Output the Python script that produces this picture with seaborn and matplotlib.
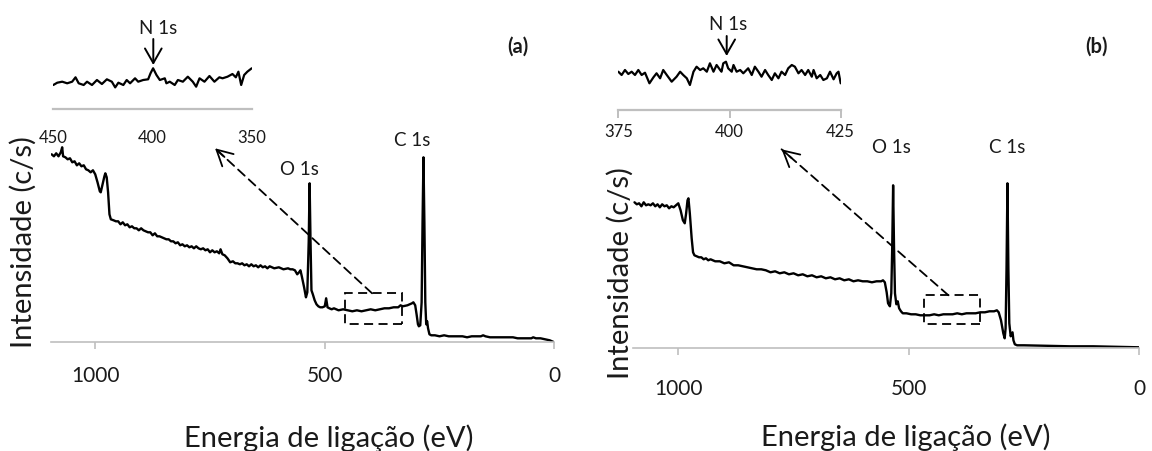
import matplotlib
matplotlib.use("Agg")
import matplotlib.pyplot as plt
import seaborn as sns
import pandas as pd
from matplotlib.patches import Rectangle, FancyArrowPatch

# ---------------- data (intensity in arbitrary units) ----------------
energy_a = [1095, 1090, 1085, 1080, 1075, 1072, 1070, 1065, 1060, 1055, 1050, 1045, 1040, 1035,
            1030, 1025, 1020, 1015, 1010, 1005, 1000, 995, 990, 988, 985, 980, 978, 975, 972,
            969, 966, 960, 955, 950, 945, 940, 935, 930, 925, 920, 915, 910, 905, 900, 895,
            890, 885, 880, 875, 870, 865, 860, 855, 850, 845, 840, 835, 830, 825, 820, 815,
            810, 805, 800, 795, 790, 785, 780, 775, 770, 765, 760, 755, 750, 745, 740, 735,
            730, 727, 723, 718, 712, 706, 700, 695, 690, 685, 680, 675, 670, 665, 660, 655,
            650, 645, 640, 635, 630, 625, 620, 610, 600, 590, 580, 575, 570, 565, 560, 556,
            553, 550, 545, 541, 538, 535, 533, 531, 529, 526, 522, 518, 514, 510, 505, 500,
            497, 494, 490, 485, 480, 470, 460, 450, 440, 430, 420, 410, 400, 390, 380, 370,
            360, 350, 340, 335, 330, 320, 315, 310, 307, 303, 300, 297, 295, 292, 289, 287,
            285, 283, 281, 279, 277, 275, 272, 268, 260, 250, 240, 230, 220, 210, 200, 190,
            180, 170, 160, 155, 150, 140, 130, 120, 110, 100, 90, 80, 70, 60, 50, 46, 40,
            30, 20, 10, 5, 0]
intensity_a = [188, 186, 189, 186, 190, 195, 186, 185, 183, 184, 180, 181, 177, 179,
               176, 177, 173, 172, 170, 172, 168, 160, 151, 150, 156, 166, 169, 165, 150,
               128, 123, 122, 121, 121, 118, 120, 117, 118, 115, 116, 114, 114, 112, 114, 112,
               111, 110, 110, 107, 109, 106, 106, 105, 104, 103, 103, 101, 101, 99, 100, 97,
               98, 96, 97, 95, 96, 94, 96, 94, 93, 94, 92, 93, 90, 92, 90, 91,
               89, 93, 88, 87, 84, 80, 81, 79, 79, 78, 79, 77, 78, 76, 78, 76,
               77, 75, 77, 75, 76, 74, 76, 74, 75, 73, 74, 73, 73, 72, 68, 70,
               72, 66, 55, 45, 50, 100, 159, 100, 52, 48, 42, 38, 36, 35, 35, 36,
               44, 35, 34, 33, 34, 32, 33, 32, 31, 32, 31, 32, 33, 32, 33, 34,
               34, 35, 35, 37, 36, 37, 38, 39, 40, 37, 28, 18, 16, 17, 40, 120,
               185, 120, 40, 18, 21, 14, 8, 7, 7, 6, 7, 6, 6, 6, 6, 5,
               6, 6, 6, 7, 6, 5, 5, 5, 5, 5, 5, 4, 4, 4, 4, 5, 4,
               4, 3, 2, 1, 0]

energy_b = [1095, 1090, 1085, 1080, 1075, 1070, 1065, 1060, 1055, 1050, 1045, 1040, 1035,
            1030, 1025, 1020, 1015, 1010, 1005, 1000, 995, 990, 986, 983, 980, 978, 975, 971,
            968, 965, 960, 955, 950, 945, 940, 935, 930, 920, 910, 900, 890, 880, 870, 860,
            850, 840, 830, 820, 810, 800, 790, 780, 770, 760, 750, 740, 730, 720, 710, 700,
            690, 680, 670, 660, 650, 640, 630, 620, 610, 600, 590, 580, 570, 560, 556, 552,
            548, 545, 541, 538, 536, 534, 532, 530, 527, 524, 521, 517, 513, 505, 495, 485,
            475, 465, 455, 445, 435, 425, 415, 405, 395, 385, 375, 365, 355, 345, 335, 325,
            315, 309, 305, 300, 295, 292, 290, 288, 286, 284, 282, 279, 277, 275, 273, 270,
            265, 250, 200, 150, 100, 50, 0]
intensity_b = [146, 144, 145, 142, 146, 143, 144, 143, 145, 142, 144, 141, 144,
               142, 143, 140, 142, 141, 143, 145, 138, 128, 125, 135, 148, 150, 135, 110,
               96, 93, 92, 91, 91, 89, 90, 88, 89, 87, 87, 85, 86, 83, 83, 82,
               81, 80, 79, 79, 78, 76, 77, 75, 76, 74, 75, 73, 74, 72, 73, 71,
               72, 70, 71, 69, 70, 68, 69, 67, 68, 67, 67, 66, 67, 67, 68, 66,
               56, 45, 42, 55, 100, 163, 100, 55, 44, 47, 40, 37, 35, 35, 34, 34,
               33, 33, 33, 34, 33, 34, 34, 34, 35, 34, 35, 35, 35, 36, 36, 37,
               37, 38, 36, 28, 15, 10, 20, 80, 165, 80, 25, 12, 14, 16, 8, 4,
               3, 3, 2.5, 2, 2, 1.5, 1]

inset_energy_a = [450, 448, 445.5, 443, 440.5, 438.8, 437.2, 434.7, 433, 430.5, 428, 425.5, 423,
                  420.5, 418.8, 417.2, 414.7, 413, 411.3, 408.8, 407.2, 404.7, 402.2, 401,
                  399.7, 398, 396.3, 393.8, 393, 391.3, 388.8, 387.2, 384.7, 382.2, 379.7,
                  378, 376.3, 373.8, 371.3, 368.8, 366.3, 364.7, 362.2, 359.7, 358, 356.7,
                  355.3, 353.8, 352.2, 350]
inset_intensity_a = [24.3, 26.6, 27.6, 26, 27.6, 32, 26, 24.3, 27.6, 24.3, 29.3, 25.3, 30,
                     27.6, 21.9, 26.6, 24.3, 29.3, 26, 31, 27.6, 29.3, 30, 36,
                     41, 34.3, 29.3, 31, 26, 27.6, 24.3, 29.3, 27.6, 32.6, 27.6,
                     22.6, 31, 27.6, 33.3, 27.6, 32, 31, 32.6, 35.3, 32, 37.6,
                     24.3, 34.3, 37.6, 41]

inset_energy_b = [375.0, 375.75, 376.5, 377.25, 378.0, 378.75, 379.5, 380.25, 381.0, 382.0,
                  382.9, 383.6, 384.4, 385.1, 385.9, 387.0, 388.1, 388.9, 389.6, 390.4,
                  391.1, 391.9, 392.6, 393.4, 394.1, 394.9, 395.6, 396.4, 397.1, 397.9,
                  398.2, 398.6, 399.2, 399.7, 400.5, 400.9, 401.6, 402.4, 403.1, 404.2,
                  405.0, 405.7, 406.5, 407.2, 408.0, 408.7, 409.5, 410.2, 411.0, 411.7,
                  412.5, 413.2, 414.0, 414.7, 415.5, 416.2, 417.0, 417.7, 418.5, 418.9,
                  419.6, 420.4, 421.1, 421.9, 422.6, 423.4, 424.1, 424.5, 425.0]
inset_intensity_b = [38.3, 35, 40, 36, 38.3, 35, 40, 35, 37.3, 26.7,
                     32.7, 36.7, 31.7, 40, 35, 28.3, 33.3, 38.3, 35, 31.7,
                     25, 38.3, 43.3, 40, 41.7, 38.3, 46.7, 38.3, 45, 40,
                     38.3, 46.7, 48.3, 41.7, 38.3, 45, 38.3, 40, 36.7, 41.7,
                     35, 43.3, 38.3, 33.3, 40, 35, 30, 36.7, 31.7, 38.3,
                     35, 41.7, 45, 43.3, 36.7, 40, 35, 40, 33.3, 40,
                     31.7, 35, 30, 31.7, 38.3, 30.7, 36.7, 38.3, 26.7]

main_ticks = [1000, 500, 0]
inset_ticks_a = [450, 400, 350]
inset_ticks_b = [375, 400, 425]
panel_labels = ["(a)", "(b)"]
peak_labels = ["O 1s", "C 1s"]
inset_peak = "N 1s"
x_title = "Energia de ligação (eV)"
y_title = "Intensidade (c/s)"

# ---------------- style ----------------
sns.set_theme(style="white")
plt.rcParams["font.family"] = ["Lato", "DejaVu Sans"]
TXT = "#1a1a1a"
GRID = "#bfbfbf"
LABEL_FS = 21

W, H = 1152, 451
fig = plt.figure(figsize=(W / 100, H / 100), dpi=100)


def fx(x):
    return x / W


def fy(y):
    return 1 - y / H


def rect(x0, y_line, x1, h):
    return [fx(x0), fy(y_line), (x1 - x0) / W, h / H]


def main_panel(pos, energy, inten, xmax, tick_pad):
    ax = fig.add_axes(pos)
    df = pd.DataFrame({"E": energy, "I": inten})
    sns.lineplot(data=df, x="E", y="I", ax=ax, color="black", lw=1.7, estimator=None)
    ax.set_xlim(xmax, 0)
    ax.set_ylim(0, 215)
    for s in ["top", "right", "left"]:
        ax.spines[s].set_visible(False)
    ax.spines["bottom"].set_color(GRID)
    ax.spines["bottom"].set_linewidth(1.2)
    ax.set_yticks([])
    ax.set_xticks(main_ticks)
    ax.set_xticklabels([str(t) for t in main_ticks])
    ax.tick_params(axis="x", bottom=True, length=5, width=1.2, color=GRID,
                   labelsize=15, labelcolor=TXT, pad=tick_pad)
    ax.set_xlabel(x_title, fontsize=LABEL_FS, color=TXT)
    ax.set_ylabel(y_title, fontsize=LABEL_FS, color=TXT)
    return ax


def inset_panel(pos, energy, inten, xlim, ticks, ticklen, pad):
    ax = fig.add_axes(pos)
    df = pd.DataFrame({"E": energy, "I": inten})
    sns.lineplot(data=df, x="E", y="I", ax=ax, color="black", lw=1.6, estimator=None)
    ax.set_xlim(*xlim)
    ax.set_ylim(0, 60)
    for s in ["top", "right", "left"]:
        ax.spines[s].set_visible(False)
    ax.spines["bottom"].set_color(GRID)
    ax.spines["bottom"].set_linewidth(1.6)
    ax.set_yticks([])
    ax.set_xticks(ticks)
    ax.set_xticklabels([str(t) for t in ticks])
    ax.tick_params(axis="x", bottom=True, length=ticklen, width=1.4, color=GRID,
                   labelsize=12, labelcolor=TXT, pad=pad)
    ax.set_xlabel("")
    ax.set_ylabel("")
    ax.patch.set_alpha(0)
    return ax


def place_labels(ax, xlab_px, ylab_px, pos_px):
    x0, yline, x1, h = pos_px
    xl = ax.xaxis.label
    ax.xaxis.set_label_coords((xlab_px[0] - x0) / (x1 - x0), (yline - xlab_px[1]) / h)
    xl.set_va("center")
    yl = ax.yaxis.label
    ax.yaxis.set_label_coords((ylab_px[0] - x0) / (x1 - x0), (yline - ylab_px[1]) / h)
    yl.set_va("center")
    yl.set_ha("center")


def dashed_zoom(ax, box, arrow_from, arrow_to):
    (e0, e1, h0, h1) = box
    ax.add_patch(Rectangle((e1, h0), e0 - e1, h1 - h0, fill=False, ec="black",
                           lw=1.3, ls=(0, (5, 3)), clip_on=False))
    ax.annotate("", xy=arrow_to, xytext=arrow_from,
                arrowprops=dict(arrowstyle="-", color="black", lw=1.3, ls=(0, (5, 3)),
                                shrinkA=0, shrinkB=0), annotation_clip=False)
    dx = arrow_to[0] - arrow_from[0]
    dy = arrow_to[1] - arrow_from[1]
    ax.annotate("", xy=arrow_to,
                xytext=(arrow_to[0] - 0.06 * dx, arrow_to[1] - 0.06 * dy),
                arrowprops=dict(arrowstyle="->,head_length=0.75,head_width=0.4",
                                mutation_scale=15, color="black", lw=1.3,
                                shrinkA=0, shrinkB=0),
                annotation_clip=False)


# ---------------- panel (a) ----------------
pos_a_px = (50.7, 342.3, 554.3, 215)
ax_a = main_panel(rect(*pos_a_px), energy_a, intensity_a, 1097, 12)
place_labels(ax_a, (329, 438), (23, 242), pos_a_px)
dashed_zoom(ax_a, (455, 332, 18, 49), (397, 49), (739, 194))

ins_a = inset_panel(rect(53.3, 109.3, 251.7, 60), inset_energy_a, inset_intensity_a,
                    (450, 350), inset_ticks_a, 0, 15)

# ---------------- panel (b) ----------------
pos_b_px = (633.3, 348.3, 1139.3, 215)
ax_b = main_panel(rect(*pos_b_px), energy_b, intensity_b, 1097.6, 17)
place_labels(ax_b, (905.5, 437), (620, 273), pos_b_px)
dashed_zoom(ax_b, (466, 346, 24, 53.3), (414, 53), (776, 199))

ins_b = inset_panel(rect(618.3, 110, 840.7, 60), inset_energy_b, inset_intensity_b,
                    (375, 425), inset_ticks_b, 6, 4)


# ---------------- annotations (pixel-placed text) ----------------
def ftext(x, y, s, size, weight="normal"):
    fig.text(fx(x), fy(y), s, ha="center", va="center", fontsize=size,
             color=TXT, fontweight=weight)


def farrow(x, y0, y1):
    fig.add_artist(FancyArrowPatch(
        (fx(x), fy(y0)), (fx(x), fy(y1)), transform=fig.transFigure,
        arrowstyle="->,head_length=0.7,head_width=0.4", mutation_scale=15,
        color="black", lw=1.4, shrinkA=0, shrinkB=0))


ftext(299.3, 169.3, peak_labels[0], 13.5)
ftext(412, 141, peak_labels[1], 13.5)
ftext(891.7, 147.3, peak_labels[0], 13.5)
ftext(1006.7, 147.3, peak_labels[1], 13.5)
ftext(158.5, 28.3, inset_peak, 13.5)
ftext(728.3, 25, inset_peak, 13.5)
farrow(153.3, 39, 65)
farrow(726.7, 36, 56)
ftext(518, 47, panel_labels[0], 14.5, "bold")
ftext(1097, 47, panel_labels[1], 14.5, "bold")

fig.savefig("out.png", dpi=100)
